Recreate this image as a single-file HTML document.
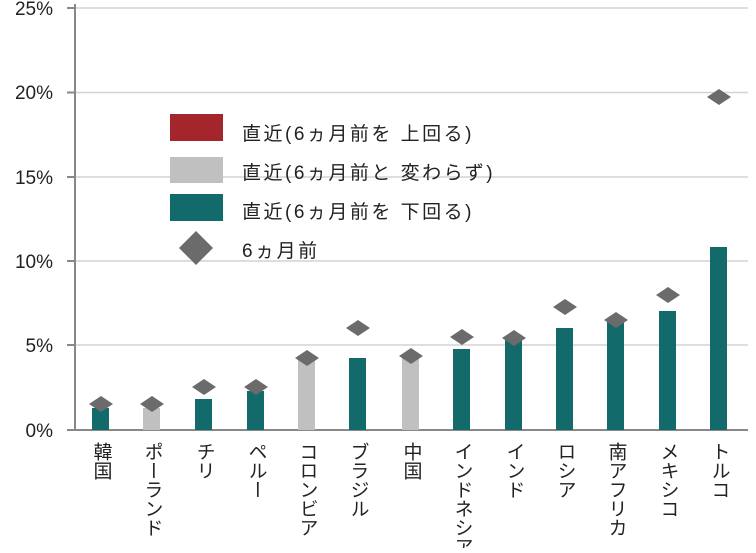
<!DOCTYPE html>
<html><head><meta charset="utf-8"><style>
body{margin:0;background:#fff;}
svg text{font-family:"Liberation Sans","Noto Sans CJK JP",sans-serif;fill:#222;}
</style></head><body>
<svg width="756" height="548" viewBox="0 0 756 548" xmlns="http://www.w3.org/2000/svg">
<g stroke="#d4d4d4" stroke-width="1.5">
<line x1="75" y1="8" x2="748" y2="8"/><line x1="75" y1="92.5" x2="748" y2="92.5"/>
<line x1="75" y1="177" x2="748" y2="177"/><line x1="75" y1="261" x2="748" y2="261"/>
<line x1="75" y1="345" x2="748" y2="345"/>
</g>
<g stroke="#888" stroke-width="2">
<line x1="75" y1="4" x2="75" y2="430"/><line x1="67" y1="430" x2="748" y2="430"/>
<line x1="67" y1="8" x2="75" y2="8"/><line x1="67" y1="92.5" x2="75" y2="92.5"/>
<line x1="67" y1="177" x2="75" y2="177"/><line x1="67" y1="261" x2="75" y2="261"/>
<line x1="67" y1="345" x2="75" y2="345"/>
</g>
<g font-size="19" text-anchor="end">
<text x="53" y="15">25%</text><text x="53" y="99">20%</text><text x="53" y="184">15%</text>
<text x="53" y="268">10%</text><text x="53" y="352">5%</text><text x="53" y="437">0%</text>
</g>
<g fill="#136a6a">
<rect x="92" y="408" width="17" height="22"/>
<rect x="143" y="408" width="17" height="22" fill="#c0c0c0"/>
<rect x="195" y="399" width="17" height="31"/>
<rect x="247" y="391" width="17" height="39"/>
<rect x="298" y="358" width="17" height="72" fill="#c0c0c0"/>
<rect x="349" y="358" width="17" height="72"/>
<rect x="402" y="358" width="17" height="72" fill="#c0c0c0"/>
<rect x="453" y="349" width="17" height="81"/>
<rect x="505" y="340" width="17" height="90"/>
<rect x="556" y="328" width="17" height="102"/>
<rect x="607" y="321" width="17" height="109"/>
<rect x="659" y="311" width="17" height="119"/>
<rect x="710" y="247" width="17" height="183"/>
</g>
<g fill="#6b6b6b">
<polygon points="89,404 101,396 113,404 101,412"/>
<polygon points="140,404 152,396 164,404 152,412"/>
<polygon points="192,387 204,379 216,387 204,395"/>
<polygon points="244,387 256,379 268,387 256,395"/>
<polygon points="295,358 307,350 319,358 307,366"/>
<polygon points="346,328 358,320 370,328 358,336"/>
<polygon points="399,356 411,348 423,356 411,364"/>
<polygon points="450,337 462,329 474,337 462,345"/>
<polygon points="502,338 514,330 526,338 514,346"/>
<polygon points="553,307 565,299 577,307 565,315"/>
<polygon points="604,320 616,312 628,320 616,328"/>
<polygon points="656,295 668,287 680,295 668,303"/>
<polygon points="707,97 719,89 731,97 719,105"/>
</g>
<rect x="170" y="114" width="53" height="27" fill="#a4262c"/>
<rect x="170" y="157" width="53" height="26" fill="#c0c0c0"/>
<rect x="170" y="194" width="53" height="27" fill="#136a6a"/>
<polygon points="196,231 213,248 196,265 179,248" fill="#6b6b6b"/>
<g font-size="19" letter-spacing="2.5">
<text x="242" y="140">直近(6ヵ月前を 上回る)</text>
<text x="242" y="179">直近(6ヵ月前と 変わらず)</text>
<text x="242" y="218">直近(6ヵ月前を 下回る)</text>
<text x="242" y="257">6ヵ月前</text>
</g>
<g font-size="19" style="writing-mode:vertical-rl" text-anchor="start">
<text x="101" y="442">韓国</text>
<text x="152" y="442">ポーランド</text>
<text x="204" y="442">チリ</text>
<text x="256" y="442">ペルー</text>
<text x="307" y="442">コロンビア</text>
<text x="358" y="442">ブラジル</text>
<text x="411" y="442">中国</text>
<text x="462" y="442">インドネシア</text>
<text x="514" y="442">インド</text>
<text x="565" y="442">ロシア</text>
<text x="616" y="442">南アフリカ</text>
<text x="668" y="442">メキシコ</text>
<text x="719" y="442">トルコ</text>
</g>
</svg>
</body></html>
